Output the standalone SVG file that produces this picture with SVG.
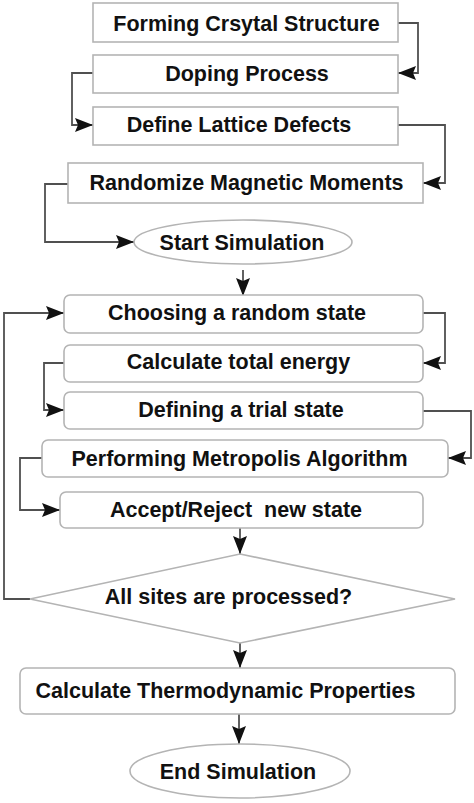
<svg xmlns="http://www.w3.org/2000/svg" width="474" height="803" viewBox="0 0 474 803">
<defs>
<marker id="arr" markerUnits="userSpaceOnUse" markerWidth="19" markerHeight="14" refX="18" refY="7" orient="auto">
<path d="M0,0 L18,7 L0,14 L3,7 Z" fill="#111"/>
</marker>
<style>
.box{fill:#fff;stroke:#b4b4b4;stroke-width:1.6}
.t{font-family:"Liberation Sans",Arial,sans-serif;font-weight:bold;font-size:21.5px;fill:#111;text-anchor:middle;white-space:pre}
.c{fill:none;stroke:#505050;stroke-width:1.8;marker-end:url(#arr)}
</style>
</defs>
<rect width="474" height="803" fill="#fff"/>
<g id="connectors">
<path class="c" d="M398,23 H418 V73 H398"/>
<path class="c" d="M93,73 H72 V125 H93"/>
<path class="c" d="M398,125 H445 V183 H423"/>
<path class="c" d="M68,184 H45 V242 H134"/>
<path class="c" d="M243,270 V296"/>
<path class="c" d="M423,313 H445 V363 H423"/>
<path class="c" d="M64,363 H44 V410 H64"/>
<path class="c" d="M423,411 H471 V458 H448"/>
<path class="c" d="M42,458 H20 V510 H60"/>
<path class="c" d="M240,528 V554"/>
<path class="c" d="M30,599 H4 V313 H64"/>
<path class="c" d="M240,643 V668"/>
<path class="c" d="M239,714 V744"/>
</g>
<g id="n1"><rect class="box" x="93" y="3" width="305" height="39"/><text class="t" x="246.5" y="30.5">Forming Crsytal Structure</text></g>
<g id="n2"><rect class="box" x="93" y="55" width="305" height="38"/><text class="t" x="247" y="81">Doping Process</text></g>
<g id="n3"><rect class="box" x="93" y="107" width="305" height="38"/><text class="t" x="239" y="132">Define Lattice Defects</text></g>
<g id="n4"><rect class="box" x="68" y="163" width="355" height="40"/><text class="t" x="246.5" y="190">Randomize Magnetic Moments</text></g>
<g id="n5"><ellipse class="box" cx="243" cy="242" rx="109" ry="22"/><text class="t" x="242" y="249.5">Start Simulation</text></g>
<g id="n6"><rect class="box" x="64" y="295" width="359" height="38" rx="6"/><text class="t" x="237" y="319.5">Choosing a random state</text></g>
<g id="n7"><rect class="box" x="64" y="345" width="359" height="37" rx="6"/><text class="t" x="238.5" y="369">Calculate total energy</text></g>
<g id="n8"><rect class="box" x="64" y="392" width="359" height="37" rx="6"/><text class="t" x="241" y="417">Defining a trial state</text></g>
<g id="n9"><rect class="box" x="42" y="440" width="406" height="37" rx="6"/><text class="t" x="239.5" y="465.5">Performing Metropolis Algorithm</text></g>
<g id="n10"><rect class="box" x="60" y="492" width="363" height="36" rx="6"/><text class="t" x="236" y="516.5">Accept/Reject  new state</text></g>
<g id="n11"><polygon class="box" points="240,554 455,599 240,643 30,599"/><text class="t" x="228.5" y="603.5">All sites are processed?</text></g>
<g id="n12"><rect class="box" x="20" y="668" width="435" height="46" rx="6"/><text class="t" x="225.5" y="697.5">Calculate Thermodynamic Properties</text></g>
<g id="n13"><ellipse class="box" cx="240" cy="771" rx="110" ry="27"/><text class="t" x="238" y="778.5">End Simulation</text></g>
</svg>
